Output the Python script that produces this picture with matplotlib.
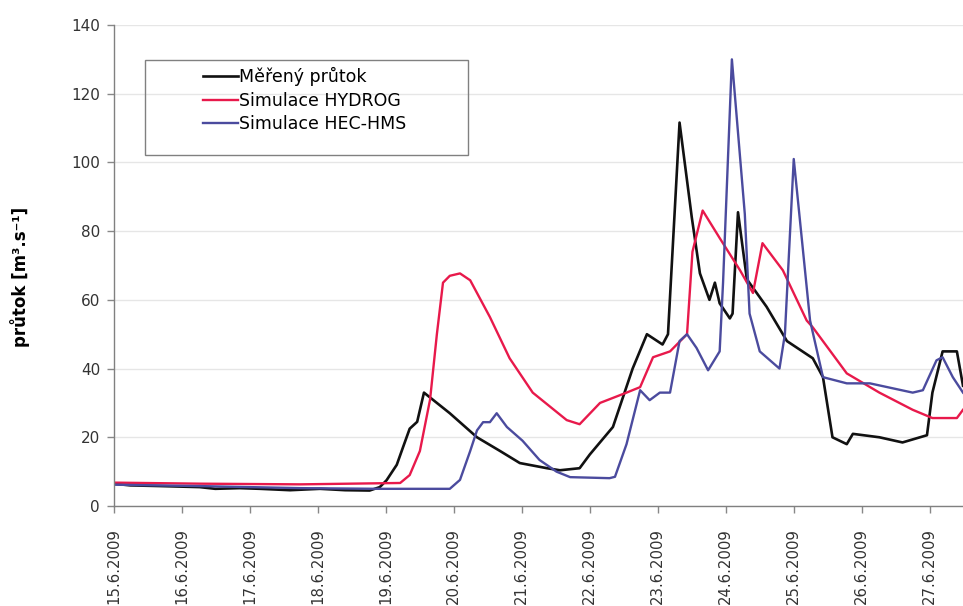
import numpy as np
import matplotlib
matplotlib.use("Agg")
import matplotlib.pyplot as plt
from matplotlib.patches import Rectangle

# --- DATA (x = days since 15.6.2009 00:00, y = discharge m3/s) ---
tick_labels = ["15.6.2009", "16.6.2009", "17.6.2009", "18.6.2009", "19.6.2009",
               "20.6.2009", "21.6.2009", "22.6.2009", "23.6.2009", "24.6.2009",
               "25.6.2009", "26.6.2009", "27.6.2009"]

mereny_t = [0.0, 0.24, 0.68, 1.26, 1.49, 1.85, 2.15, 2.59, 3.03, 3.40, 3.76, 3.91,
            4.01, 4.16, 4.25, 4.35, 4.46, 4.56, 4.94, 5.34, 5.68, 5.97, 6.37, 6.56,
            6.85, 7.0, 7.34, 7.63, 7.84, 8.07, 8.15, 8.32, 8.50, 8.62, 8.76, 8.84,
            8.91, 9.06, 9.10, 9.18, 9.31, 9.60, 9.90, 10.28, 10.43, 10.57, 10.78,
            10.87, 11.26, 11.60, 11.96, 12.04, 12.19, 12.40, 12.49]
mereny_q = [6.5, 6.0, 5.8, 5.5, 5.0, 5.2, 5.0, 4.6, 5.0, 4.6, 4.5, 5.5,
            7.5, 12, 17, 22.5, 24.5, 33, 27, 20, 16, 12.5, 11, 10.4,
            11, 15, 23, 40, 50, 47, 50, 111.6, 84, 67.7, 60, 65,
            59, 54.6, 56, 85.5, 66, 58, 48, 43, 37.5, 20, 18,
            21, 20, 18.5, 20.6, 33, 45, 45, 35]

hydrog_t = [0.0, 1.26, 2.74, 4.21, 4.35, 4.5, 4.65, 4.75, 4.84, 4.94, 5.09, 5.24,
            5.53, 5.82, 6.16, 6.66, 6.85, 7.15, 7.54, 7.74, 7.93, 8.18, 8.43, 8.51,
            8.66, 8.91, 9.21, 9.40, 9.54, 9.84, 10.19, 10.28, 10.78, 11.26, 11.75,
            12.04, 12.40, 12.49]
hydrog_q = [6.8, 6.5, 6.3, 6.7, 9, 16, 31, 50, 65, 67, 67.7, 65.7,
            55, 43, 33, 25, 23.8, 30, 33, 34.6, 43.3, 45, 50, 74,
            86, 78, 68.6, 62, 76.5, 68.6, 54, 52, 38.6, 33, 28,
            25.6, 25.6, 28]

hms_t = [0.0, 1.26, 2.74, 3.91, 4.94, 5.09, 5.24, 5.34, 5.43, 5.53, 5.63, 5.78,
         6.01, 6.26, 6.51, 6.71, 7.29, 7.37, 7.54, 7.74, 7.88, 8.03, 8.18, 8.32,
         8.43, 8.57, 8.74, 8.91, 8.96, 9.09, 9.28, 9.35, 9.50, 9.79, 9.87, 10.0,
         10.24, 10.43, 10.78, 11.12, 11.75, 11.90, 12.10, 12.19, 12.34, 12.49]
hms_q = [6.2, 5.8, 5.2, 5.0, 5.0, 7.6, 16, 22, 24.4, 24.4, 27, 23,
         19, 13.4, 10, 8.4, 8.1, 8.5, 18, 33.7, 30.8, 33, 33, 48,
         50, 46, 39.5, 45, 65, 130, 85, 56, 45, 40, 50, 101,
         54, 37.5, 35.7, 35.7, 33, 33.7, 42.4, 43.3, 37.5, 33]

# --- PLOT ---
fig = plt.figure(figsize=(9.63, 6.06), dpi=100)
ax = fig.add_axes([114 / 963, 100 / 606, 849 / 963, 481 / 606])

ax.plot(mereny_t, mereny_q, color="#111111", lw=1.9, label="Měřený průtok")
ax.plot(hydrog_t, hydrog_q, color="#e8194b", lw=1.7, label="Simulace HYDROG")
ax.plot(hms_t, hms_q, color="#4b4b9e", lw=1.7, label="Simulace HEC-HMS")

ax.set_xlim(0, 12.49)
ax.set_ylim(0, 140)
ax.set_xticks(np.arange(len(tick_labels)))
ax.set_xticklabels(tick_labels, rotation=90, fontsize=10.7, color="#333333")
ax.set_yticks(np.arange(0, 141, 20))
ax.tick_params(axis="y", labelsize=11, colors="#333333", length=5, width=1, pad=5)
ax.tick_params(axis="x", length=5, width=1, pad=11, colors="#333333")
ax.tick_params(axis="both", color="#888888")

ax.grid(axis="y", color="#e6e6e6", lw=1)
ax.set_axisbelow(True)
for s in ["top", "right"]:
    ax.spines[s].set_visible(False)
for s in ["left", "bottom"]:
    ax.spines[s].set_color("#808080")
    ax.spines[s].set_linewidth(1)

ax.set_ylabel("průtok [m³.s⁻¹]", fontsize=12, fontweight="bold")
ax.yaxis.set_label_coords(-0.099, 0.476)

# legend box like Excel: entries centred in a wide frame
fig.patches.append(Rectangle((145 / 963, 1 - 155 / 606), 323 / 963, 95 / 606,
                             transform=fig.transFigure, fill=False,
                             edgecolor="#808080", lw=1))
fig.legend(loc="upper left", bbox_to_anchor=(203 / 963, 1 - 67 / 606),
           frameon=False, fontsize=12.5, handlelength=2.0, handletextpad=0.05,
           labelspacing=0.32, borderpad=0, borderaxespad=0)

fig.savefig("out.png", dpi=100)
